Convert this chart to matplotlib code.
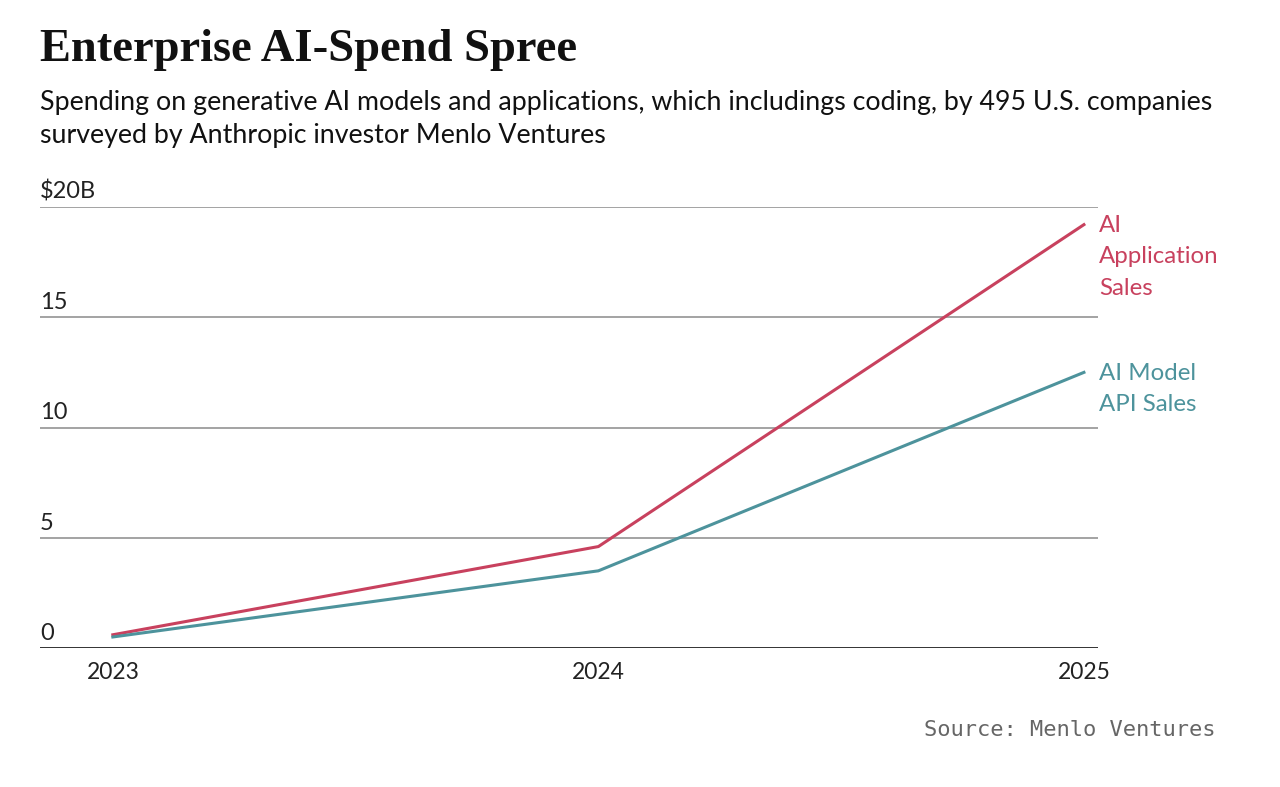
import matplotlib
matplotlib.use('Agg')
import matplotlib.pyplot as plt

years = [2023, 2024, 2025]
app_sales = [0.6, 4.6, 19.2]
api_sales = [0.5, 3.5, 12.5]
y_ticks = [0, 5, 10, 15, 20]
y_labels = ['0', '5', '10', '15', '$20B']

red = '#C8415E'
teal = '#4D939C'

fig = plt.figure(figsize=(12.8, 7.87), dpi=100)
ax = fig.add_axes([40 / 1280, 1 - 648 / 787, (1098 - 40) / 1280, (648 - 207) / 787])

ax.plot(years, app_sales, color=red, lw=2.2, solid_joinstyle='miter', zorder=3)
ax.plot(years, api_sales, color=teal, lw=2.2, solid_joinstyle='miter', zorder=3)

ax.set_xlim(2022.85, 2025.029)
ax.set_ylim(0, 20)
for s in ax.spines.values():
    s.set_visible(False)
ax.set_yticks([])
ax.set_xticks(years)
ax.set_xticklabels([str(y) for y in years], fontsize=16.5, family='Lato', color='#222222')
ax.tick_params(axis='x', length=0, pad=10)

for v, lab in zip(y_ticks, y_labels):
    ax.axhline(v, color='#333333' if v == 0 else '#8a8a8a', lw=1.4 if v == 0 else 1.1, zorder=1)
    ax.annotate(lab, xy=(0, v), xycoords=('axes fraction', 'data'), xytext=(0, 3),
                textcoords='offset points', ha='left', va='bottom',
                fontsize=17, family='Lato', color='#222222')

ax.annotate('AI\nApplication\nSales', xy=(1, app_sales[-1]), xycoords=('axes fraction', 'data'),
            xytext=(1, 7), textcoords='offset points', ha='left', va='top',
            fontsize=17.3, family='Lato', color=red, linespacing=1.61, annotation_clip=False)
ax.annotate('AI Model\nAPI Sales', xy=(1, api_sales[-1]), xycoords=('axes fraction', 'data'),
            xytext=(1, 7), textcoords='offset points', ha='left', va='top',
            fontsize=17.3, family='Lato', color=teal, linespacing=1.61, annotation_clip=False)

fig.text(40 / 1280, 1 - 50 / 787, 'Enterprise AI-Spend Spree', ha='left', va='center',
         fontsize=33.5, fontweight='bold', family='Liberation Serif', color='#111111')
fig.text(40 / 1280, 1 - 119 / 787,
         'Spending on generative AI models and applications, which includings coding, by 495 U.S. companies\n'
         'surveyed by Anthropic investor Menlo Ventures',
         ha='left', va='center', fontsize=19.3, family='Lato', color='#111111', linespacing=1.42)
fig.text(1216 / 1280, 1 - 730 / 787, 'Source: Menlo Ventures', ha='right', va='center',
         fontsize=15.8, family='DejaVu Sans Mono', color='#666666')

fig.savefig('out.png', dpi=100, facecolor='white')
